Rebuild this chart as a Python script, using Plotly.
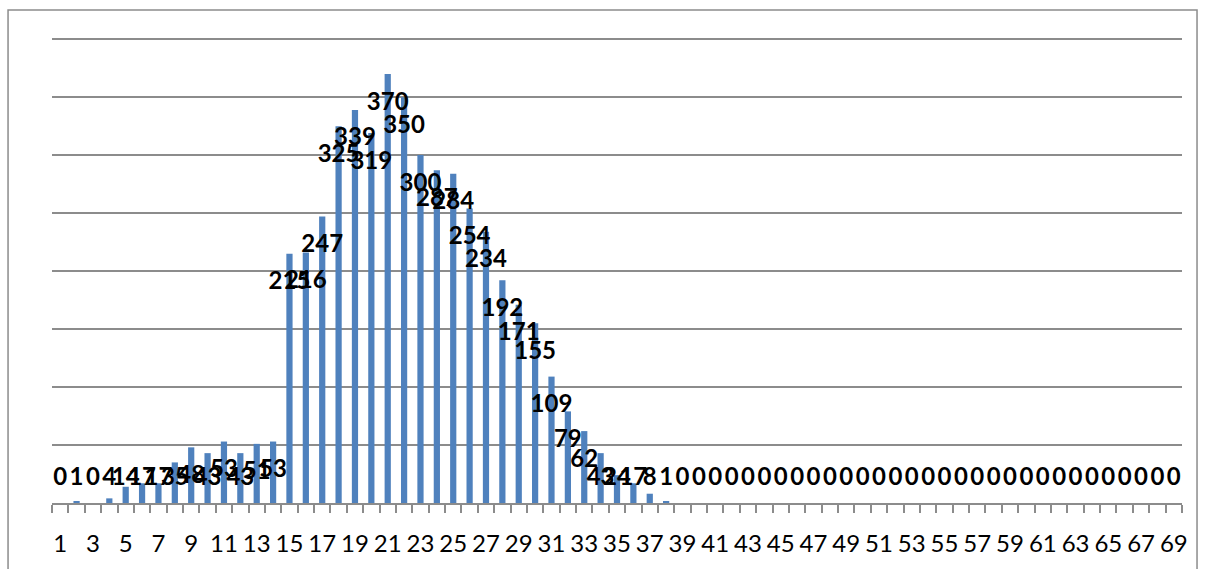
import plotly.graph_objects as go

categories = list(range(1, 70))
values = [0, 1, 0, 4, 14, 17, 17, 35, 48, 43,
          53, 43, 51, 53, 215, 216, 247, 325, 339, 319,
          370, 350, 300, 287, 284, 254, 234, 192, 171, 155,
          109, 79, 62, 43, 24, 17, 8, 1] + [0] * 31
tick_labels = [str(c) for c in categories[::2]]

BAR_COLOR = "#4F81BD"
GRID = "#8C8C8C"

# label positions: inside-end of bar, but kept above the axis for short bars
label_y = [max(v - 25.5, 21) for v in values]

fig = go.Figure()
fig.add_trace(go.Bar(x=categories, y=values, width=0.38,
                     marker=dict(color=BAR_COLOR, line=dict(width=0)),
                     hoverinfo="skip"))
fig.add_trace(go.Scatter(x=categories, y=label_y, mode="text",
                         text=[str(v) for v in values],
                         textposition="middle center",
                         textfont=dict(family="Lato", size=24, color="black", weight="bold"),
                         cliponaxis=False, hoverinfo="skip"))

fig.update_layout(
    width=1206, height=569,
    margin=dict(l=52, r=24, t=38, b=51),
    paper_bgcolor="white", plot_bgcolor="white",
    showlegend=False,
    font=dict(family="Lato", color="black"),
    xaxis=dict(
        type="linear", range=[0.5, 69.5],
        tickvals=categories[::2], ticktext=tick_labels,
        ticks="outside", ticklen=0, tickcolor=GRID,
        ticklabelstandoff=18,
        tickfont=dict(family="Lato", size=24, color="black"),
        showgrid=False, zeroline=False,
        showline=True, linecolor=GRID, linewidth=1.5,
        minor=dict(tick0=0.5, dtick=1, ticks="outside", ticklen=8,
                   tickcolor=GRID, tickwidth=1.5, showgrid=False),
    ),
    yaxis=dict(
        range=[0, 401], tickvals=[50, 100, 150, 200, 250, 300, 350, 400],
        showticklabels=False,
        showgrid=True, gridcolor=GRID, gridwidth=1.5,
        zeroline=False, showline=False, ticks="",
    ),
    shapes=[dict(type="rect", xref="paper", yref="paper",
                 x0=-0.0389, x1=1.0133, y0=-0.16, y1=1.06,
                 line=dict(color="#8C8C8C", width=1.5), layer="below")],
)

fig.write_html("out.html", config={"displayModeBar": False},
               post_script="document.body.style.margin='0';document.body.style.overflow='hidden';")
